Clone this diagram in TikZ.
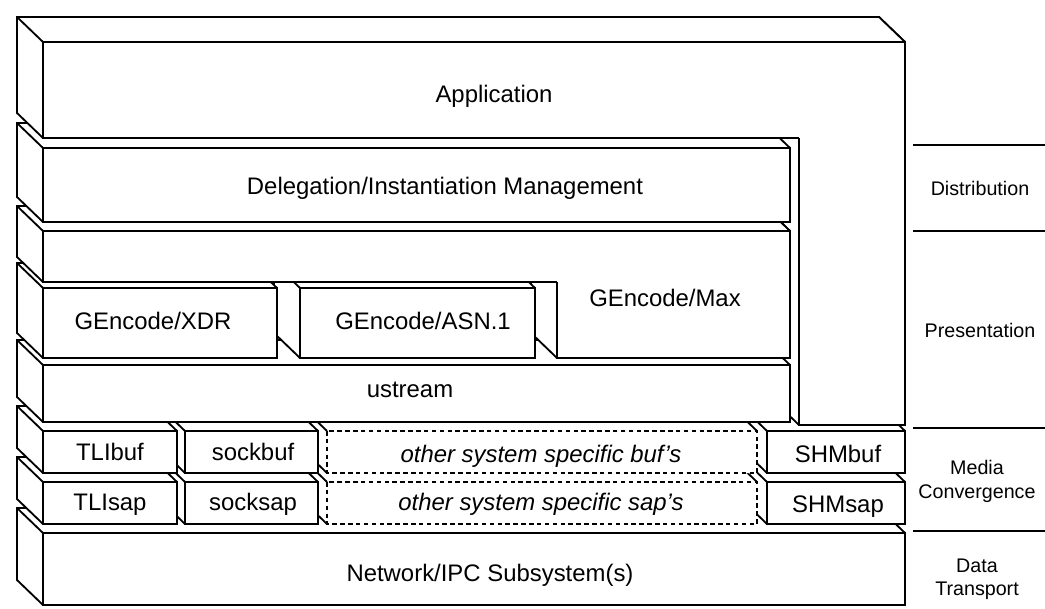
\documentclass[tikz,border=0pt]{standalone}
\usepackage{fontspec}
\setmainfont{Liberation Sans}
% depth of every slab: offset from a front corner to the matching back corner
\def\slabdx{-26}
\def\slabdy{-25}
\tikzset{
  slabline/.style={line width=1.3pt, line join=miter},
  hidden/.style={dash pattern=on 3.2pt off 2.4pt},
  lbl/.style={font=\fontsize{17}{20}\selectfont, anchor=base, inner sep=0pt},
  side/.style={font=\fontsize{14}{17}\selectfont, anchor=base, inner sep=0pt},
}
% \slabbox[front style]{x1}{y1}{x2}{y2}: a box seen from the upper left,
% front face from (x1,y1) to (x2,y2), with its left and top faces
\newcommand\slabbox[5][]{%
  \fill[white] (#2,#5) -- ++(\slabdx,\slabdy) -- ({#2+\slabdx},{#3+\slabdy})
     -- ({#4+\slabdx},{#3+\slabdy}) -- (#4,#3) -- (#4,#5) -- cycle;
  \draw[slabline] (#2,#5) -- ++(\slabdx,\slabdy) -- ({#2+\slabdx},{#3+\slabdy})
     -- ({#4+\slabdx},{#3+\slabdy}) -- (#4,#3);
  \draw[slabline] (#2,#3) -- ++(\slabdx,\slabdy);
  \draw[slabline,#1] (#2,#3) rectangle (#4,#5);
}
% \slabband{x1}{y1}{x2}{y2}{xi}: upper band of an inverted-L slab whose
% lower part starts at xi (front bottom edge stops there)
\newcommand\slabband[5]{%
  \fill[white] (#1,#4) -- ++(\slabdx,\slabdy) -- ({#1+\slabdx},{#2+\slabdy})
     -- ({#3+\slabdx},{#2+\slabdy}) -- (#3,#2) -- (#3,#4) -- cycle;
  \draw[slabline] (#1,#4) -- ++(\slabdx,\slabdy) -- ({#1+\slabdx},{#2+\slabdy})
     -- ({#3+\slabdx},{#2+\slabdy}) -- (#3,#2);
  \draw[slabline] (#1,#2) -- ++(\slabdx,\slabdy);
  \draw[slabline] (#5,#4) -- (#1,#4) -- (#1,#2) -- (#3,#2) -- (#3,#4);
}
\begin{document}
\begin{tikzpicture}[x=0.025cm,y=-0.025cm]
\useasboundingbox (0,0) rectangle (1045,609);

% ---- stack, drawn from the bottom up and from right to left
\slabbox{43}{533}{905}{605}            % network / IPC

\slabbox{767}{482}{905}{524}           % SHM sap
\slabbox[hidden]{327}{482}{757}{524}   % other sap's
\slabbox{185}{482}{318}{524}           % socket sap
\slabbox{43}{482}{177}{524}            % TLI sap

\slabbox{767}{431}{905}{473}           % SHM buf
\slabbox[hidden]{327}{431}{757}{473}   % other buf's
\slabbox{185}{431}{318}{473}           % socket buf
\slabbox{43}{431}{177}{473}            % TLI buf

\slabbox{799}{42}{905}{425}            % application, right column

\slabbox{43}{365}{790}{422}            % ustream

\slabbox{557}{231}{790}{358}           % GEncode/Max, lower part
\slabbox{300}{288}{535}{358}           % ASN.1
\slabbox{43}{288}{277}{358}            % XDR
\slabband{43}{231}{790}{282}{557}      % GEncode/Max, upper band

\slabbox{43}{148}{790}{222}            % delegation / instantiation

\slabband{43}{42}{905}{138}{799}       % application, upper band

% ---- labels inside the stack
\node[lbl] (app)    at (494,103) {Application};
\node[lbl] (deleg)  at (445,195) {Delegation/Instantiation Management};
\node[lbl] (xdr)    at (153,330) {GEncode/XDR};
\node[lbl] (asn)    at (423,330) {GEncode/ASN.1};
\node[lbl] (gmax)   at (665,307) {GEncode/Max};
\node[lbl] (ustr)   at (410,398) {ustream};
\node[lbl] (tlibuf) at (110,460) {TLIbuf};
\node[lbl] (sockbuf) at (253,460) {sockbuf};
\node[lbl] (othbuf) at (541,462) {\itshape other system specific buf's};
\node[lbl] (shmbuf) at (838,462) {SHMbuf};
\node[lbl] (tlisap) at (110,510) {TLIsap};
\node[lbl] (socksap) at (253,510) {socksap};
\node[lbl] (othsap) at (541,510) {\itshape other system specific sap's};
\node[lbl] (shmsap) at (838,512) {SHMsap};
\node[lbl] (net)    at (490,581) {Network/IPC Subsystem(s)};

% ---- layer scale on the right
\foreach \yy in {145,231,428,531}
  \draw[slabline] (913,\yy) -- (1045,\yy);
\node[side] (distr) at (980,196) {Distribution};
\node[side] (pres)  at (980,338) {Presentation};
\node[side] (media) at (977,474) {Media};
\node[side] (conv)  at (977,498) {Convergence};
\node[side] (data)  at (977,572) {Data};
\node[side] (trans) at (977,595) {Transport};
\end{tikzpicture}
\end{document}
